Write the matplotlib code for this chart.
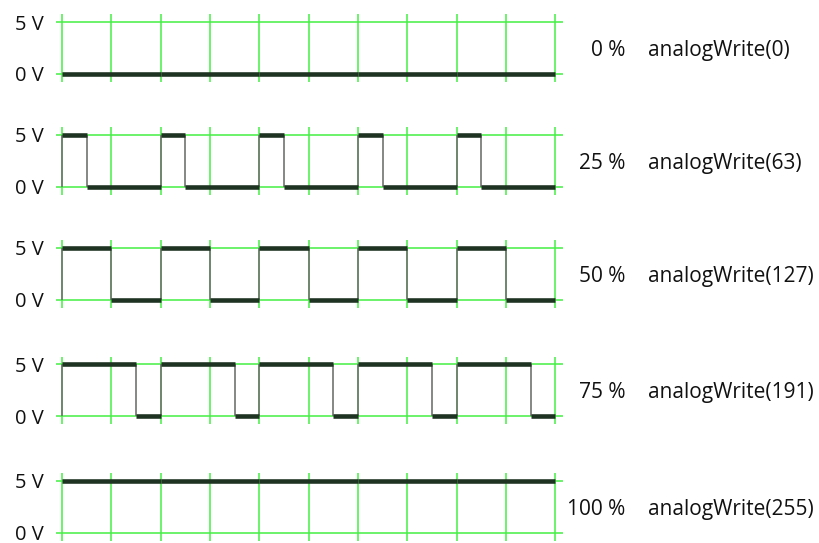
import matplotlib
matplotlib.use("Agg")
import matplotlib.pyplot as plt
import numpy as np

# ---- data ----
duty_percent = [0, 25, 50, 75, 100]
write_values = [0, 63, 127, 191, 255]
volt_levels = [0, 5]
volt_labels = ["0 V", "5 V"]
n_periods = 5
cells_per_period = 2

# ---- styles / layout ----
GRID = "#44f044"
WAVE = "#1f3322"
EDGE = "#6f736f"
FONT = "Open Sans"
plt.rcParams['font.family'] = [FONT, 'DejaVu Sans']

W, H = 820, 543
fig = plt.figure(figsize=(W / 100, H / 100), dpi=100)

x0_px, x10_px = 62.0, 555.5
ppu = (x10_px - x0_px) / 10.0
xmin, xmax = -0.2, 10.3
vpx = 52.0 / 5.0
ymin, ymax = -0.9, 5.9
top5_px = [22.0, 134.7, 247.7, 364.3, 481.0]

n_cells = n_periods * cells_per_period

for i, (d, v) in enumerate(zip(duty_percent, write_values)):
    left_px = x0_px + xmin * ppu
    right_px = x0_px + xmax * ppu
    top_px = top5_px[i] - (ymax - 5) * vpx
    bot_px = top5_px[i] + 5 * vpx - ymin * vpx
    ax = fig.add_axes([left_px / W, 1 - bot_px / H,
                       (right_px - left_px) / W, (bot_px - top_px) / H])
    ax.set_xlim(xmin, xmax)
    ax.set_ylim(ymin, ymax)
    for s in ax.spines.values():
        s.set_visible(False)
    ax.set_xticks([])
    ax.set_yticks(volt_levels)
    ax.set_yticklabels(volt_labels, fontsize=14.5, color="#111111")
    ax.tick_params(axis='y', length=0, pad=6)
    ax.patch.set_alpha(0)

    # grid
    ax.vlines(np.arange(0, n_cells + 1), -0.75, 5.75, color=GRID, lw=1.1, zorder=1)
    ax.hlines(volt_levels, -0.13, 10.15, color=GRID, lw=1.1, zorder=1)

    # waveform
    frac = d / 100.0
    hi_len = cells_per_period * frac
    for k in range(n_periods):
        s = k * cells_per_period
        e = s + cells_per_period
        if hi_len > 0:
            ax.hlines(5, s, s + hi_len, color=WAVE, lw=3.3, zorder=3,
                      capstyle='butt')
        if hi_len < cells_per_period:
            ax.hlines(0, s + hi_len, e, color=WAVE, lw=3.3, zorder=3,
                      capstyle='butt')
        if 0 < frac < 1:
            ax.vlines([s, s + hi_len], 0, 5, color=EDGE, lw=1.2, zorder=2)

    ax.text(11.42, 1.73, f"{d} %", ha='right', va='baseline', fontsize=15,
            color="#111111", clip_on=False)
    ax.text(11.88, 1.73, f"analogWrite({v})", ha='left', va='baseline',
            fontsize=15, color="#111111", clip_on=False)

fig.savefig("out.png", dpi=100)
